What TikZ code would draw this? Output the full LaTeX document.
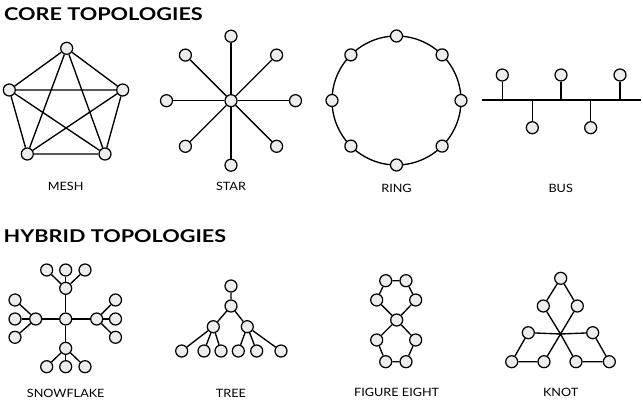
\documentclass[tikz,border=0pt]{standalone}
\usepackage{fontspec}
\setmainfont{Lato}
\newfontfamily\ttlfont[FakeStretch=1.23]{Lato Bold}
\newfontfamily\lblfont[FakeStretch=1.1]{Lato}
\usetikzlibrary{calc}
\begin{document}
\begin{tikzpicture}[x=1pt,y=-1pt,
  nd/.style={circle,draw=black,fill=black!7,line width=1.25pt,minimum size=12pt,inner sep=0pt},
  ln/.style={line width=1.35pt},
  ttl/.style={anchor=base west,inner sep=0pt,font=\ttlfont\fontsize{17.6}{18}\selectfont},
  lbl/.style={inner sep=0pt,font=\lblfont\fontsize{11.5}{12}\selectfont}]
\useasboundingbox (0,0) rectangle (643,402);
\node[ttl] (t1) at (4,20.2) {CORE TOPOLOGIES};
\node[ttl] (t2) at (3.5,242.7) {HYBRID TOPOLOGIES};
% MESH
\node[nd] (m1) at (66.7,48.3) {};
\node[nd] (m2) at (9.3,90) {};
\node[nd] (m3) at (122.7,90) {};
\node[nd] (m4) at (27.3,154) {};
\node[nd] (m5) at (105,154) {};
\draw[ln] (m1)--(m2) (m1)--(m3) (m1)--(m4) (m1)--(m5) (m2)--(m3) (m2)--(m4) (m2)--(m5) (m3)--(m4) (m3)--(m5) (m4)--(m5);
\node[lbl] (lm) at (65.7,186.7) {MESH};
% STAR
\node[nd] (sc) at (231,100.7) {};
\foreach \a [count=\i] in {0,45,...,315} {
  \node[nd] (s\i) at ($(sc)+(\a:64.5)$) {};
  \draw[ln] (sc)--(s\i);
}
\node[lbl] (ls) at (231,186.7) {STAR};
% RING
\coordinate (rc) at (396.5,100.5);
\draw[ln] (rc) circle[radius=64.5];
\foreach \a [count=\i] in {0,45,...,315} {
  \node[nd] (r\i) at ($(rc)+(\a:64.5)$) {};
}
\node[lbl] (lr) at (396.5,188) {RING};
% BUS
\coordinate (bl) at (481.5,100);
\coordinate (br) at (641,100);
\draw[ln] (bl)--(br);
\node[nd] (b1) at (502.3,75) {};
\node[nd] (b2) at (561,75) {};
\node[nd] (b3) at (620,75) {};
\node[nd] (b4) at (532.3,127.7) {};
\node[nd] (b5) at (590.7,127.7) {};
\foreach \i in {1,...,5} { \draw[ln] (b\i)--(b\i |- bl); }
\node[lbl] (lb) at (560.7,188) {BUS};
% SNOWFLAKE
\node[nd] (fc) at (65.7,319) {};
\node[nd] (ft) at (65.7,288.3) {};
\node[nd] (fl) at (35.7,319) {};
\node[nd] (fr) at (96.7,319) {};
\node[nd] (fb) at (65.7,348.3) {};
\node[nd] (ft1) at (46.7,270) {};
\node[nd] (ft2) at (65.7,270) {};
\node[nd] (ft3) at (85,270) {};
\node[nd] (fl1) at (15,300) {};
\node[nd] (fl2) at (15,319) {};
\node[nd] (fl3) at (15,337.3) {};
\node[nd] (fr1) at (115.5,300) {};
\node[nd] (fr2) at (115.5,319) {};
\node[nd] (fr3) at (115.5,337.3) {};
\node[nd] (fb1) at (46.7,366.7) {};
\node[nd] (fb2) at (65.7,366.7) {};
\node[nd] (fb3) at (85,366.7) {};
\draw[ln] (fc)--(ft) (fc)--(fl) (fc)--(fr) (fc)--(fb);
\foreach \h in {t,l,r,b} { \foreach \k in {1,2,3} { \draw[ln] (f\h)--(f\h\k); } }
\node[lbl] (lf) at (65.7,393.3) {SNOWFLAKE};
% TREE
\node[nd] (tr) at (231,286) {};
\node[nd] (t0) at (231,306) {};
\node[nd] (ta) at (213.3,326.7) {};
\node[nd] (tb) at (247.3,326.7) {};
\node[nd] (ta1) at (181.7,351) {};
\node[nd] (ta2) at (204,351) {};
\node[nd] (ta3) at (221,351) {};
\node[nd] (tb1) at (238.3,351) {};
\node[nd] (tb2) at (256.7,351) {};
\node[nd] (tb3) at (281,351) {};
\draw[ln] (tr)--(t0) (t0)--(ta) (t0)--(tb);
\foreach \h in {a,b} { \foreach \k in {1,2,3} { \draw[ln] (t\h)--(t\h\k); } }
\node[lbl] (lt) at (231,393.3) {TREE};
% FIGURE EIGHT
\node[nd] (e1) at (385.7,280.7) {};
\node[nd] (e2) at (406,280.7) {};
\node[nd] (e3) at (415.7,300) {};
\node[nd] (ec) at (396.7,320) {};
\node[nd] (e4) at (376.7,300) {};
\node[nd] (e5) at (376.7,340) {};
\node[nd] (e6) at (415.7,340) {};
\node[nd] (e7) at (385.7,361.7) {};
\node[nd] (e8) at (406,361.7) {};
\draw[ln] (e1)--(e2) (e2)--(e3) (e3)--(ec) (ec)--(e4) (e4)--(e1)
  (ec)--(e5) (ec)--(e6) (e5)--(e7) (e7)--(e8) (e8)--(e6);
\node[lbl] (le) at (396.7,392.7) {FIGURE EIGHT};
% KNOT
\coordinate (kc) at (560.5,334);
\node[nd] (k1) at (560.7,278.3) {};
\node[nd] (k2) at (543.3,306) {};
\node[nd] (k3) at (577.3,306) {};
\node[nd] (k4) at (528.3,332.7) {};
\node[nd] (k5) at (592.7,332.7) {};
\node[nd] (k6) at (511.7,361.7) {};
\node[nd] (k7) at (544,361.7) {};
\node[nd] (k8) at (576,361.7) {};
\node[nd] (k9) at (609.3,361.7) {};
\draw[ln] (k1)--(k2) (k1)--(k3) (k2)--(kc)--(k8) (k3)--(kc)--(k7) (k4)--(kc)--(k5)
  (k4)--(k6) (k6)--(k7) (k5)--(k9) (k9)--(k8);
\node[lbl] (lk) at (560.7,392.7) {KNOT};
\end{tikzpicture}
\end{document}
